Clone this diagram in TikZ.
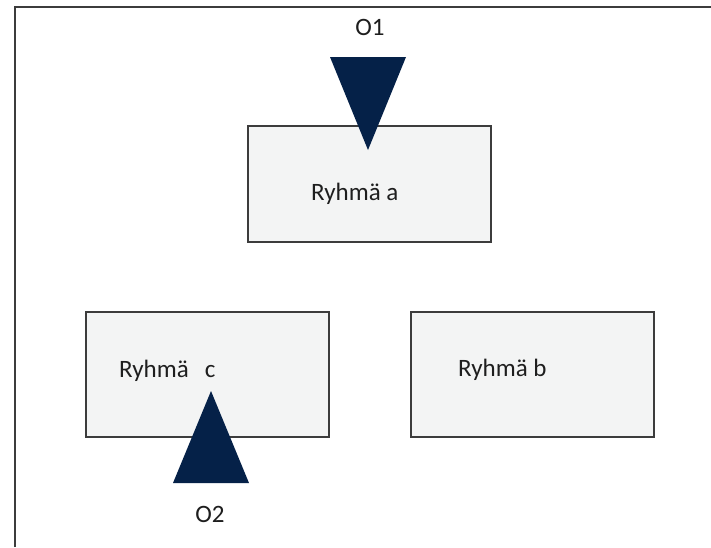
\documentclass[tikz,border=0pt]{standalone}
\usepackage{fontspec}
\setmainfont{Carlito}
\definecolor{boxfill}{RGB}{243,244,244}
\definecolor{boxline}{RGB}{60,60,60}
\definecolor{navy}{RGB}{5,33,72}
\definecolor{txt}{RGB}{30,30,30}
\begin{document}
\begin{tikzpicture}[x=1pt,y=-1pt,
  grp/.style={draw=boxline,line width=1.3pt,fill=boxfill,inner sep=0pt},
  lbl/.style={font=\fontsize{25}{29}\selectfont,text=txt,inner sep=0pt},
  tri/.style={fill=navy,draw=none}]
\useasboundingbox (0,0) rectangle (711,547);
\fill[white] (0,0) rectangle (711,547);
% frame (top and left edges only)
\draw[boxline,line width=2pt] (15,547) -- (15,7) -- (711,7);
% groups
\node[grp,minimum width=243pt,minimum height=116pt] (ga) at (369.5,184) {};
\node[grp,minimum width=243pt,minimum height=125pt] (gc) at (207.5,374.5) {};
\node[grp,minimum width=243pt,minimum height=125pt] (gb) at (532.5,374.5) {};
\node[lbl,anchor=base west] (ta) at (311,200) {Ryhmä a};
\node[lbl,anchor=base west] (tc) at (119,377) {Ryhmä\hspace{16pt}c};
\node[lbl,anchor=base west] (tb) at (458,376) {Ryhmä b};
% triangles
\fill[tri] (330,57) -- (406,57) -- (368,150) -- cycle;
\fill[tri] (211,391) -- (249,483) -- (173,483) -- cycle;
\node[lbl,anchor=base] (o1) at (370,35) {O1};
\node[lbl,anchor=base] (o2) at (210,522) {O2};
\end{tikzpicture}
\end{document}
